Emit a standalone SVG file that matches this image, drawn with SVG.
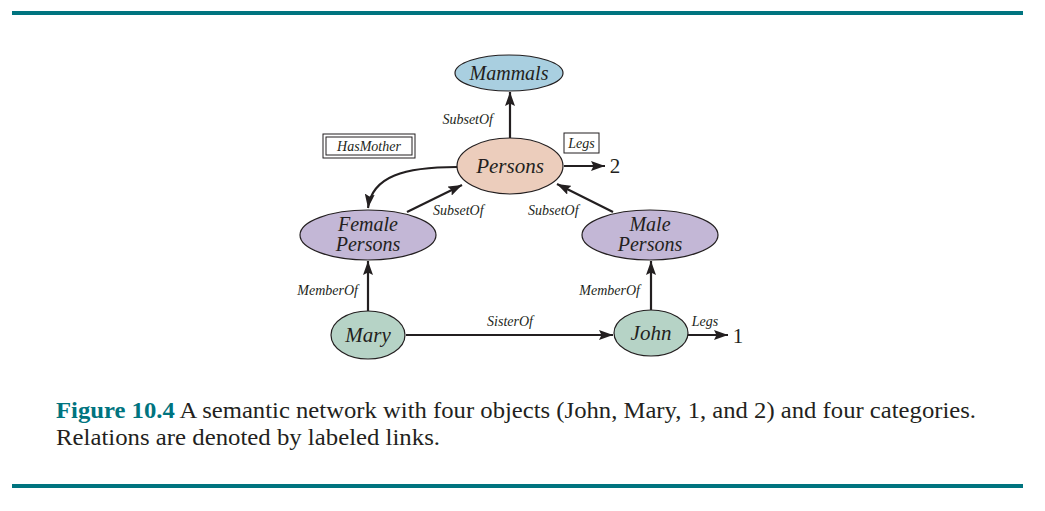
<svg xmlns="http://www.w3.org/2000/svg" width="1045" height="511" viewBox="0 0 1045 511">
<style>
text{font-family:'Liberation Serif','Times New Roman',Times,Tinos,serif}
.node{stroke:#231f20;stroke-width:1.2}
.nt{font-style:italic;fill:#231f20;text-anchor:middle}
.el{font-style:italic;fill:#231f20;font-size:14px}
.edge{fill:none;stroke:#231f20;stroke-width:2.2;marker-end:url(#ah)}
.num{fill:#231f20;font-size:21px;text-anchor:middle}
.rule{fill:#00747f}
.cap{font-size:24px;fill:#231f20}
</style>
<defs>
<marker id="ah" markerUnits="userSpaceOnUse" markerWidth="15" markerHeight="10" refX="14" refY="5" orient="auto">
<path d="M0,0 L14,5 L0,10 L2.5,5 z" fill="#231f20"/>
</marker>
</defs>
<rect class="rule" x="12" y="11" width="1011" height="4"/>
<rect class="rule" x="12" y="484" width="1011" height="4"/>
<g id="connectors">
<path class="edge" d="M510 138 L510 92"/>
<path class="edge" d="M407 212 L462 185"/>
<path class="edge" d="M613 212 L557 184"/>
<path class="edge" d="M457 167 C405 167 372 176 368 208"/>
<path class="edge" d="M564 166 L605 166"/>
<path class="edge" d="M368 311 L368 261"/>
<path class="edge" d="M651 310 L651 261"/>
<path class="edge" d="M406 335 L613 335"/>
<path class="edge" d="M688 335 L728 335"/>
<text class="el" x="493" y="124" text-anchor="end">SubsetOf</text>
<text class="el" x="433" y="215">SubsetOf</text>
<text class="el" x="528" y="215">SubsetOf</text>
<text class="el" x="358" y="295" text-anchor="end">MemberOf</text>
<text class="el" x="640" y="295" text-anchor="end">MemberOf</text>
<text class="el" x="510" y="326" text-anchor="middle">SisterOf</text>
<text class="el" x="705" y="326" text-anchor="middle">Legs</text>
<g id="hasmother-label">
<rect x="323" y="134" width="92" height="24" fill="#fff" stroke="#231f20" stroke-width="1"/>
<rect x="326" y="137" width="86" height="18" fill="none" stroke="#231f20" stroke-width="1"/>
<text class="el" x="369" y="151" text-anchor="middle">HasMother</text>
</g>
<g id="legs-label">
<rect x="564" y="133" width="35" height="20" fill="#fff" stroke="#231f20" stroke-width="1"/>
<text class="el" x="581.5" y="148" text-anchor="middle">Legs</text>
</g>
<text class="num" x="615" y="173">2</text>
<text class="num" x="738" y="343">1</text>
</g>
<g id="mammals">
<ellipse class="node" cx="509" cy="73" rx="54" ry="18" fill="#a9cfe0"/>
<text class="nt" x="509" y="80" font-size="20">Mammals</text>
</g>
<g id="persons">
<ellipse class="node" cx="510" cy="166" rx="53" ry="28" fill="#eccdbc"/>
<text class="nt" x="510" y="173" font-size="21">Persons</text>
</g>
<g id="female-persons">
<ellipse class="node" cx="368" cy="235" rx="68" ry="25" fill="#c3b7d6"/>
<text class="nt" x="368" y="231" font-size="20">Female</text>
<text class="nt" x="368" y="251" font-size="20">Persons</text>
</g>
<g id="male-persons">
<ellipse class="node" cx="650" cy="235" rx="68" ry="25" fill="#c3b7d6"/>
<text class="nt" x="650" y="231" font-size="20">Male</text>
<text class="nt" x="650" y="251" font-size="20">Persons</text>
</g>
<g id="mary">
<ellipse class="node" cx="368" cy="335" rx="37" ry="24" fill="#b6d3c6"/>
<text class="nt" x="368" y="342" font-size="21">Mary</text>
</g>
<g id="john">
<ellipse class="node" cx="651" cy="333" rx="37" ry="23" fill="#b6d3c6"/>
<text class="nt" x="651" y="340" font-size="21">John</text>
</g>
<text class="cap" x="56" y="418" textLength="920" lengthAdjust="spacingAndGlyphs"><tspan font-weight="bold" fill="#00747f">Figure 10.4</tspan>  A semantic network with four objects (John, Mary, 1, and 2) and four categories.</text>
<text class="cap" x="56" y="445" textLength="384" lengthAdjust="spacingAndGlyphs">Relations are denoted by labeled links.</text>
</svg>
